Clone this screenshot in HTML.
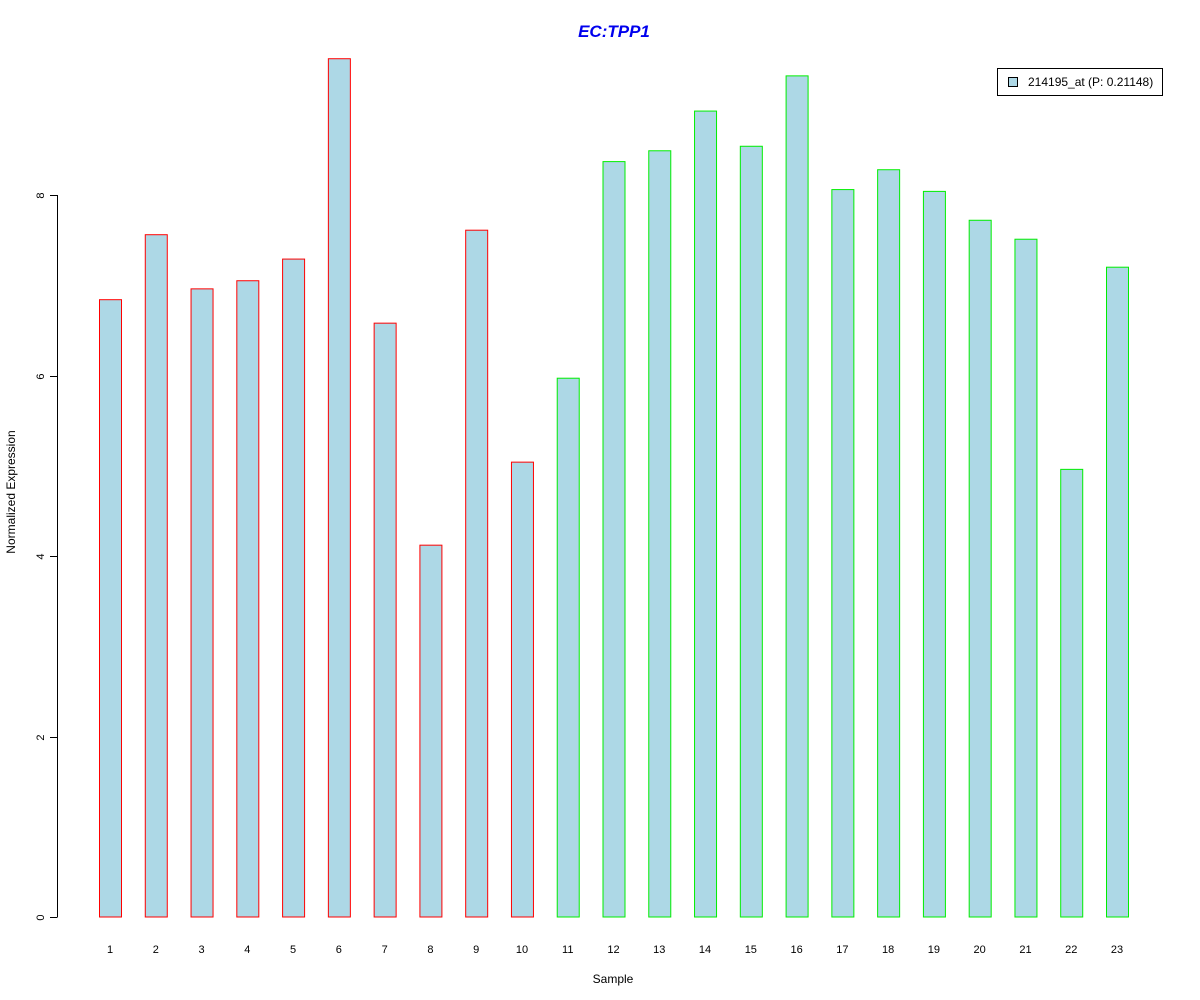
<!DOCTYPE html>
<html><head><meta charset="utf-8"><style>
html,body{margin:0;padding:0;background:#fff;}
svg{display:block;font-family:"Liberation Sans",Arial,sans-serif;}
</style></head><body>
<svg id="chart" width="1200" height="1000" viewBox="0 0 1200 1000" xmlns="http://www.w3.org/2000/svg">
<rect width="1200" height="1000" fill="#fff"/>
<text x="614" y="37" text-anchor="middle" font-size="17" font-weight="bold" font-style="italic" fill="#0000ee">EC:TPP1</text>
<g id="bars"></g>
<g id="yaxis"></g>
<g id="xlabels"></g>
<text x="613" y="983" text-anchor="middle" font-size="12">Sample</text>
<text transform="translate(15,492) rotate(-90)" text-anchor="middle" font-size="12">Normalized Expression</text>
<g>
<rect x="997.5" y="68.5" width="165" height="27" fill="#fff" stroke="#000"/>
<rect x="1008.5" y="77.5" width="9" height="9" fill="#add8e6" stroke="#000"/>
<text x="1028" y="86" font-size="12">214195_at (P: 0.21148)</text>
</g>
</svg>
<script>
const categories = ["1","2","3","4","5","6","7","8","9","10","11","12","13","14","15","16","17","18","19","20","21","22","23"];
const values = [6.84,7.56,6.96,7.05,7.29,9.51,6.58,4.12,7.61,5.04,5.97,8.37,8.49,8.93,8.54,9.32,8.06,8.28,8.04,7.72,7.51,4.96,7.20];
const groups = ["a","a","a","a","a","a","a","a","a","a","b","b","b","b","b","b","b","b","b","b","b","b","b"];
const yTicks = [0,2,4,6,8];
const NS="http://www.w3.org/2000/svg";
function yScale(v){return 917 - v*90.25;}
function xScale(i){return 110 + i*(1117-110)/22;}
const bars=document.getElementById('bars');
values.forEach((v,i)=>{
  const r=document.createElementNS(NS,'rect');
  const y=yScale(v);
  r.setAttribute('x',xScale(i)-11+0.5);
  r.setAttribute('y',y);
  r.setAttribute('width',22);
  r.setAttribute('height',917-y);
  r.setAttribute('fill','#add8e6');
  r.setAttribute('stroke',groups[i]==="a"?'#ff0000':'#00ee00');
  
  
  bars.appendChild(r);
  const t=document.createElementNS(NS,'text');
  t.setAttribute('x',xScale(i));
  t.setAttribute('y',953);
  t.setAttribute('text-anchor','middle');
  t.setAttribute('font-size','11');
  t.textContent=categories[i];
  
  
  document.getElementById('xlabels').appendChild(t);
});
const ya=document.getElementById('yaxis');
const line=document.createElementNS(NS,'line');
line.setAttribute('x1',57.5);line.setAttribute('x2',57.5);
line.setAttribute('y1',yScale(yTicks[0]));line.setAttribute('y2',yScale(yTicks[yTicks.length-1]));
line.setAttribute('stroke','#000');


ya.appendChild(line);
yTicks.forEach(v=>{
  const y=Math.round(yScale(v))+0.5;
  const tk=document.createElementNS(NS,'line');
  tk.setAttribute('x1',50);tk.setAttribute('x2',57.5);
  tk.setAttribute('y1',y);tk.setAttribute('y2',y);
  tk.setAttribute('stroke','#000');
  
  
  ya.appendChild(tk);
  const t=document.createElementNS(NS,'text');
  t.setAttribute('transform','translate(44,'+y+') rotate(-90)');
  t.setAttribute('text-anchor','middle');
  t.setAttribute('font-size','11');
  t.textContent=String(v);
  
  
  ya.appendChild(t);
});
</script>
</body></html>
